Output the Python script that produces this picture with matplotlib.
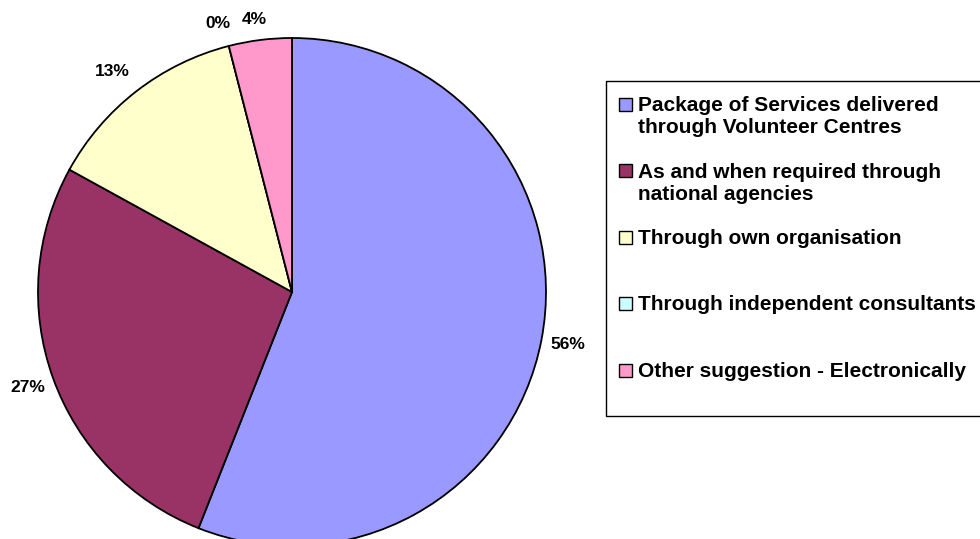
import matplotlib.pyplot as plt
from matplotlib.patches import Rectangle

plt.rcParams['font.family'] = ['Liberation Sans', 'DejaVu Sans']

labels = ["Package of Services delivered\nthrough Volunteer Centres",
          "As and when required through\nnational agencies",
          "Through own organisation",
          "Through independent consultants",
          "Other suggestion - Electronically"]
values = [56, 27, 13, 0, 4]
pct_labels = ["56%", "27%", "13%", "0%", "4%"]
colors = ["#9999FF", "#993366", "#FFFFCC", "#CCFFFF", "#FF99CC"]

fig = plt.figure(figsize=(9.8, 5.39), dpi=100)
ax = fig.add_axes([0, 0, 1, 1])

# y axis runs downward, so startangle -90 is the top and ccw looks clockwise
wedges, texts = ax.pie(values, labels=pct_labels, colors=colors,
                       startangle=-90, counterclock=True,
                       center=(292, 292), radius=254, labeldistance=1.107,
                       wedgeprops=dict(edgecolor='black', linewidth=1.3),
                       textprops=dict(fontsize=12.5, fontweight='bold'),
                       frame=True)
ax.set_xlim(0, 980)
ax.set_ylim(539, 0)
ax.set_aspect('auto')
ax.axis('off')
for t in texts:
    t.set_ha('center')
    t.set_va('center')
# nudge the crowded small labels
texts[2].set_position((112, 71))
texts[3].set_position((218, 24))
texts[4].set_position((254, 19))

# legend box
ax.add_patch(Rectangle((606, 81), 400, 335, fill=False, edgecolor='black',
                       linewidth=1.0, clip_on=False))
first_baseline = 111
step = 66.5
line_h = 22
for i, (lab, col) in enumerate(zip(labels, colors)):
    yb = first_baseline + i * step
    ax.add_patch(Rectangle((619, yb - 13.5), 13, 13, facecolor=col,
                           edgecolor='black', linewidth=1.0))
    for j, line in enumerate(lab.split("\n")):
        ax.text(638, yb + j * line_h, line, fontsize=15, fontweight='bold',
                ha='left', va='baseline')

fig.savefig('out.png', dpi=100)
